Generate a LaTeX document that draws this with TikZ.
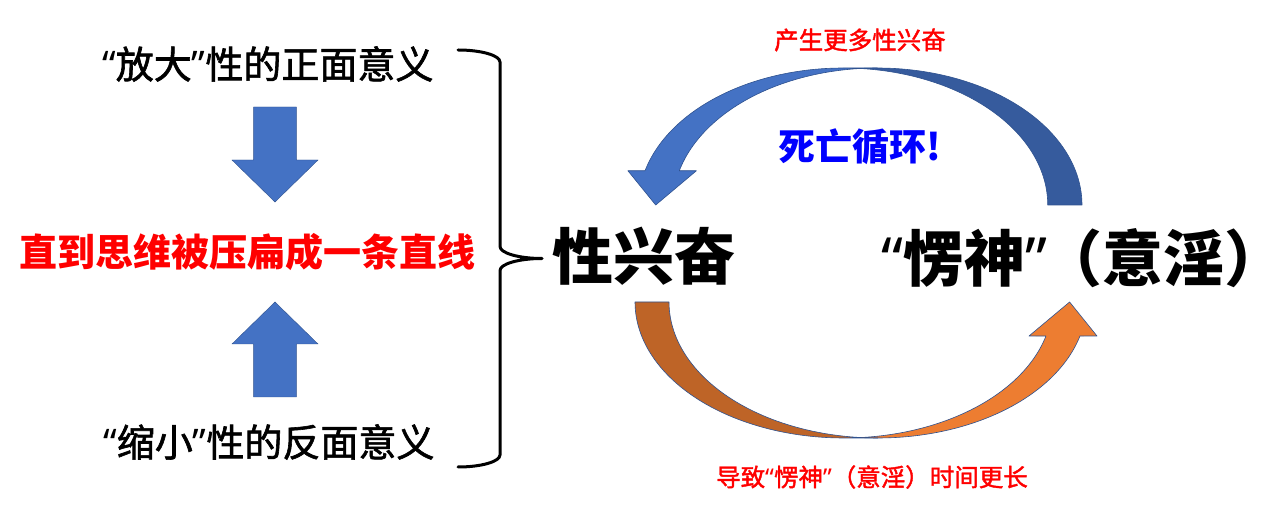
\documentclass[tikz,border=0pt]{standalone}
\usepackage{fontspec}
\setmainfont{Noto Sans CJK SC}
\newfontfamily\cjkmid{Noto Sans CJK SC}[FakeBold=1.6]
\newfontfamily\latq{Noto Sans}
\newcommand{\myLq}{{\latq\bfseries “}}
\newcommand{\myRq}{{\latq\bfseries ”}}
\definecolor{oblue}{HTML}{4472C4}
\definecolor{dblue}{HTML}{365B9D}
\definecolor{oorange}{HTML}{ED7D31}
\definecolor{dorange}{HTML}{BE6427}
\definecolor{edgeblue}{HTML}{2F528F}
\definecolor{pred}{HTML}{FF0000}
\definecolor{pblue}{HTML}{0000FF}
\tikzset{
  blocka/.style={fill=oblue, draw=edgeblue, line width=0.4pt},
  frontb/.style={fill=oblue, draw=edgeblue, line width=0.6pt, line join=round},
  backb/.style={fill=dblue, draw=edgeblue, line width=0.6pt, line join=round},
  fronto/.style={fill=oorange, draw=edgeblue, line width=0.6pt, line join=round},
  backo/.style={fill=dorange, draw=edgeblue, line width=0.6pt, line join=round},
  blacktxt/.style={inner sep=0pt, anchor=west, font=\cjkmid\fontsize{38}{42}\selectfont},
  redtxt/.style={inner sep=0pt, anchor=center, text=pred, font=\bfseries\fontsize{38}{42}\selectfont},
  bigtxt/.style={inner sep=0pt, anchor=west, font=\bfseries\fontsize{61}{66}\selectfont},
  smallred/.style={inner sep=0pt, anchor=center, text=pred, font=\cjkmid\fontsize{24.5}{28}\selectfont},
  cyctxt/.style={inner sep=0pt, anchor=center, text=pblue, font=\bfseries\fontsize{37}{40}\selectfont},
  bracestyle/.style={draw=black, line width=3pt, line cap=round, line join=round}
}
\begin{document}
\begin{tikzpicture}[x=1pt,y=-1pt]
\useasboundingbox (0,0) rectangle (1275,510);
\fill[white] (0,0) rectangle (1275,510);

% left column texts
\node[blacktxt] (pos) at (102,64) {\myLq 放大\myRq 性的正面意义};
\node[redtxt] (mid) at (247.5,252) {直到思维被压扁成一条直线};
\node[blacktxt] (neg) at (103,442) {\myLq 缩小\myRq 性的反面意义};

% block arrows
\draw[blocka] (253.6,107) -- (296.4,107) -- (296.4,160) -- (318,160) -- (275,202) -- (232,160) -- (253.6,160) -- cycle;
\draw[blocka] (253.6,397) -- (296.4,397) -- (296.4,344) -- (318,344) -- (275,302) -- (232,344) -- (253.6,344) -- cycle;

% brace
\coordinate (bt) at (458,50);
\coordinate (bb) at (458,467);
\coordinate (btip) at (542,258.5);
\draw[bracestyle] (bt) .. controls (481.2,50) and (500,55.4) .. (500,62)
  -- (500,246.5) .. controls (500,253.1) and (518.8,258.5) .. (btip)
  .. controls (518.8,258.5) and (500,263.9) .. (500,270.5)
  -- (500,455) .. controls (500,461.6) and (481.2,467) .. (bb);

% main texts
\node[bigtxt] (sx) at (552,256) {性兴奋};
\node[bigtxt] (ls) at (881,258) {\myLq 愣神\myRq\kern-6pt（意淫）\kern-24pt};

% blue curved arrow (back part)
\draw[backb] plot[domain=265.2:360, samples=60, variable=\t] ({877.4+204.6*cos(\t)},{205+137*sin(\t)})
  -- plot[domain=360:274.8, samples=60, variable=\t] ({843.15+204.6*cos(\t)},{205+137*sin(\t)}) -- cycle;
% blue curved arrow (front part)
\draw[frontb] (655.7,205) -- (627.9,170.75)
  -- plot[domain=194.48:270, samples=60, variable=\t] ({843.15+204.6*cos(\t)},{205+137*sin(\t)})
  -- plot[domain=270:194.48, samples=60, variable=\t] ({877.4+204.6*cos(\t)},{205+137*sin(\t)})
  -- (696.4,170.75) -- cycle;

% orange curved arrow (front part)
\draw[fronto] (1069.6,302) -- (1097,336)
  -- plot[domain=14.48:94.67, samples=60, variable=\t] ({877.8+208.8*cos(\t)},{302+136*sin(\t)})
  -- plot[domain=85.33:14.48, samples=60, variable=\t] ({843.8+208.8*cos(\t)},{302+136*sin(\t)})
  -- (1029,336) -- cycle;
% orange curved arrow (back part)
\draw[backo] plot[domain=90:180, samples=60, variable=\t] ({843.8+208.8*cos(\t)},{302+136*sin(\t)})
  -- plot[domain=180:90, samples=60, variable=\t] ({877.8+208.8*cos(\t)},{302+136*sin(\t)}) -- cycle;

% labels on the cycle
\node[smallred] (more) at (860,40) {产生更多性兴奋};
\node[cyctxt] (loop) at (860,147) {死亡循环!};
\node[smallred, anchor=west] (longer) at (716,477) {导致{\latq “}愣神{\latq ”}（意淫）时间更长};
\end{tikzpicture}
\end{document}
